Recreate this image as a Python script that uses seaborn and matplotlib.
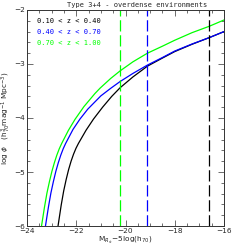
import numpy as np
import pandas as pd
import matplotlib
matplotlib.use("Agg")
import matplotlib.pyplot as plt
import seaborn as sns
from matplotlib.ticker import MultipleLocator

# Read-off points of each curve (absolute magnitude, log phi)
labels = ["0.10 < z < 0.40", "0.40 < z < 0.70", "0.70 < z < 1.00"]
colors = ["black", "#0000ff", "#00ff00"]

mag_low = [-22.74, -22.61, -22.51, -22.41, -22.31, -22.21, -22.11, -22.01, -21.91, -21.60, -21.30, -20.93,
           -20.56, -20.22, -19.70, -19.11, -18.50, -18.00, -17.30, -16.59, -16.00]
phi_low = [-6.00, -5.61, -5.35, -5.14, -4.955, -4.80, -4.67, -4.56, -4.47, -4.225, -4.02, -3.80,
           -3.60, -3.44, -3.24, -3.04, -2.89, -2.77, -2.635, -2.51, -2.40]

mag_mid = [-23.25, -23.13, -23.03, -22.93, -22.83, -22.73, -22.63, -22.53, -22.43, -22.13, -21.85, -21.53,
           -21.00, -20.60, -20.22, -19.70, -19.11, -18.50, -18.00, -17.30, -16.59, -16.00]
phi_mid = [-6.00, -5.65, -5.39, -5.18, -4.99, -4.83, -4.69, -4.57, -4.47, -4.21, -4.02, -3.835,
           -3.59, -3.45, -3.325, -3.175, -3.02, -2.88, -2.76, -2.63, -2.51, -2.40]

mag_high = [-23.41, -23.29, -23.19, -23.09, -22.99, -22.89, -22.79, -22.69, -22.59, -22.32, -22.05, -21.69,
            -21.24, -21.03, -20.60, -20.22, -19.70, -19.11, -18.50, -18.00, -17.30, -16.59, -16.00]
phi_high = [-6.00, -5.65, -5.39, -5.18, -4.99, -4.83, -4.69, -4.57, -4.47, -4.23, -4.025, -3.79,
            -3.546, -3.446, -3.267, -3.128, -2.96, -2.80, -2.67, -2.56, -2.42, -2.30, -2.185]

# Magnitude limits (vertical dashed lines)
mag_limits = [-16.59, -19.11, -20.22]

title = "Type 3+4 - overdense environments"

frames = []
for lab, m, p in zip(labels, [mag_low, mag_mid, mag_high], [phi_low, phi_mid, phi_high]):
    frames.append(pd.DataFrame({"mag": m, "logphi": p, "z": lab}))
df = pd.concat(frames, ignore_index=True)

sns.set_style("ticks")
plt.rcParams["font.family"] = ["DejaVu Sans"]

fig = plt.figure(figsize=(2.49, 2.49), dpi=100)
ax = fig.add_axes([27/249, 1 - 226/249, 197/249, 216/249])

sns.lineplot(data=df, x="mag", y="logphi", hue="z", palette=dict(zip(labels, colors)),
             ax=ax, legend=False, linewidth=0.9, sort=False, estimator=None)

for lim, c in zip(mag_limits, colors):
    ax.axvline(lim, color=c, linestyle=(0, (9, 3)), linewidth=0.9)

ax.set_xlim(-24, -16)
ax.set_ylim(-6, -2)
ax.xaxis.set_major_locator(MultipleLocator(2))
ax.xaxis.set_minor_locator(MultipleLocator(0.5))
ax.yaxis.set_major_locator(MultipleLocator(1))
ax.yaxis.set_minor_locator(MultipleLocator(0.2))
ax.tick_params(which="both", direction="in", top=True, right=True, labelsize=5.3,
               color="#555555", pad=1.5, width=0.6)
ax.tick_params(which="major", length=4)
ax.tick_params(which="minor", length=2)
for s in ax.spines.values():
    s.set_linewidth(0.7)
    s.set_color("#333333")

ax.set_xlabel("M$_{R_{st}}$$-$5log(h$_{70}$)", fontsize=5.3)
ax.xaxis.set_label_coords(0.5, -0.068)
ax.xaxis.label.set_va("center")
ax.set_ylabel("log $\\phi$   (h$^3_{70}$mag$^{-1}$ Mpc$^{-3}$)", fontsize=5.3)
ax.yaxis.set_label_coords(-0.105, 0.5)
ax.yaxis.label.set_va("center")

for i, (lab, c) in enumerate(zip(labels, colors)):
    ax.text(0.05, 0.95 - i * 0.052, lab, transform=ax.transAxes, color=c,
            fontsize=5.0, family="DejaVu Sans Mono", va="center", ha="left")

fig.text(137/249, 1 - 4.5/249, title, ha="center", va="center", fontsize=5.0,
         family="DejaVu Sans Mono")

fig.savefig("out.png", dpi=100)
